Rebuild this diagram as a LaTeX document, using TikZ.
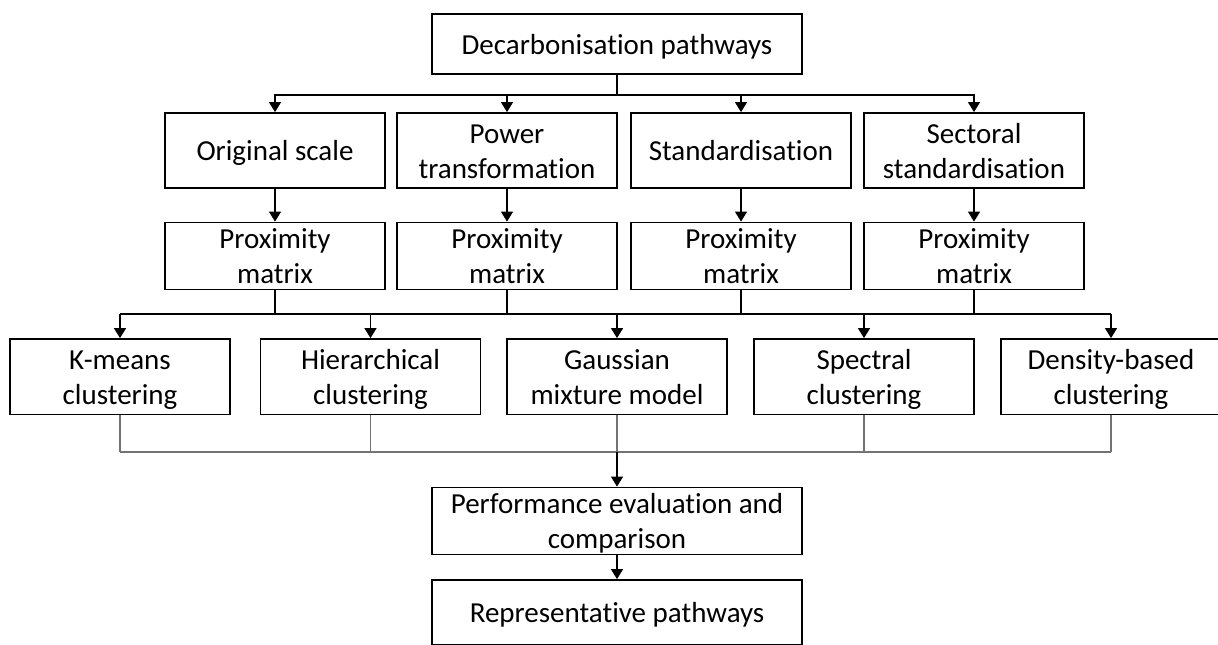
\documentclass[tikz,border=0pt]{standalone}
\usepackage{fontspec}
\setmainfont{Carlito}[Ligatures={NoCommon,NoContextual,NoRare}, RawFeature={-liga;-clig;-dlig;-calt}]
\usetikzlibrary{arrows.meta}
\newcommand\lnst{\rule[-3pt]{0pt}{16pt}}
\begin{document}
\begin{tikzpicture}[x=0.5pt,y=-0.5pt,
  box/.style={draw=black, line width=0.9pt, inner sep=0pt, align=center,
    font=\fontsize{14.5}{17.5}\selectfont},
  wbox/.style={box, minimum width=110pt},
  conn/.style={draw=black, line width=0.6pt},
  arr/.style={conn, -{Triangle[width=6pt,length=5pt]}},
  busline/.style={draw=black, line width=0.9pt},
  greyline/.style={draw=black!55, line width=0.6pt}]
\useasboundingbox (0,0) rectangle (1218,644);

% top
\node[box, minimum width=185pt, minimum height=30pt] (top) at (617,44) {\lnst Decarbonisation pathways};

% row 2
\node[wbox, minimum height=37.5pt] (orig) at (275,150.5) {\lnst Original scale};
\node[wbox, minimum height=37.5pt] (pow)  at (507,150.5) {\lnst Power\\\lnst transformation};
\node[wbox, minimum height=37.5pt] (std)  at (741,150.5) {\lnst Standardisation};
\node[wbox, minimum height=37.5pt] (sec)  at (974,150.5) {\lnst Sectoral\\\lnst standardisation};

% row 3
\node[wbox, minimum height=33pt] (p1) at (275,256) {\lnst Proximity\\\lnst matrix};
\node[wbox, minimum height=33pt] (p2) at (507,256) {\lnst Proximity\\\lnst matrix};
\node[wbox, minimum height=33pt] (p3) at (741,256) {\lnst Proximity\\\lnst matrix};
\node[wbox, minimum height=33pt] (p4) at (974,256) {\lnst Proximity\\\lnst matrix};

% row 4
\node[wbox, minimum height=37.75pt] (km)  at (120,376.75)  {\lnst K-means\\\lnst clustering};
\node[wbox, minimum height=37.75pt] (hc)  at (370.5,376.75) {\lnst Hierarchical\\\lnst clustering};
\node[wbox, minimum height=37.75pt] (gm)  at (617,376.75)  {\lnst Gaussian\\\lnst mixture model};
\node[wbox, minimum height=37.75pt] (sc)  at (864,376.75)  {\lnst Spectral\\\lnst clustering};
\node[wbox, minimum height=37.75pt] (db)  at (1111,376.75) {\lnst Density-based\\\lnst clustering};

% bottom
\node[box, minimum width=185pt, minimum height=31pt] (perf) at (617,521) {\lnst Performance evaluation and\\\lnst comparison};
\node[box, minimum width=185pt, minimum height=32.5pt] (rep) at (617,612.5) {\lnst Representative pathways};

% top -> row 2
\foreach \n in {orig,pow,std,sec}
  \draw[arr] (top.south) -- ++(0,20) -| (\n.north);

% row 2 -> row 3
\draw[arr] (orig) -- (p1);
\draw[arr] (pow) -- (p2);
\draw[arr] (std) -- (p3);
\draw[arr] (sec) -- (p4);

% row 3 -> bus -> row 4
\coordinate (b2) at (617,314);
\foreach \n in {p1,p2,p3,p4}
  \draw[busline] (\n.south) -- (\n.south |- b2);
\draw[busline] (km.north |- b2) -- (db.north |- b2);
\foreach \n in {km,hc,gm,sc,db}
  \draw[arr] (\n.north |- b2) -- (\n.north);

% row 4 -> bus -> performance
\coordinate (b3) at (617,452);
\foreach \n in {km,hc,gm,sc,db}
  \draw[greyline] (\n.south) -- (\n.south |- b3);
\draw[greyline] (km.south |- b3) -- (db.south |- b3);
\draw[arr] (b3) -- (perf.north);

% performance -> representative
\draw[arr] (perf) -- (rep);
\end{tikzpicture}
\end{document}
